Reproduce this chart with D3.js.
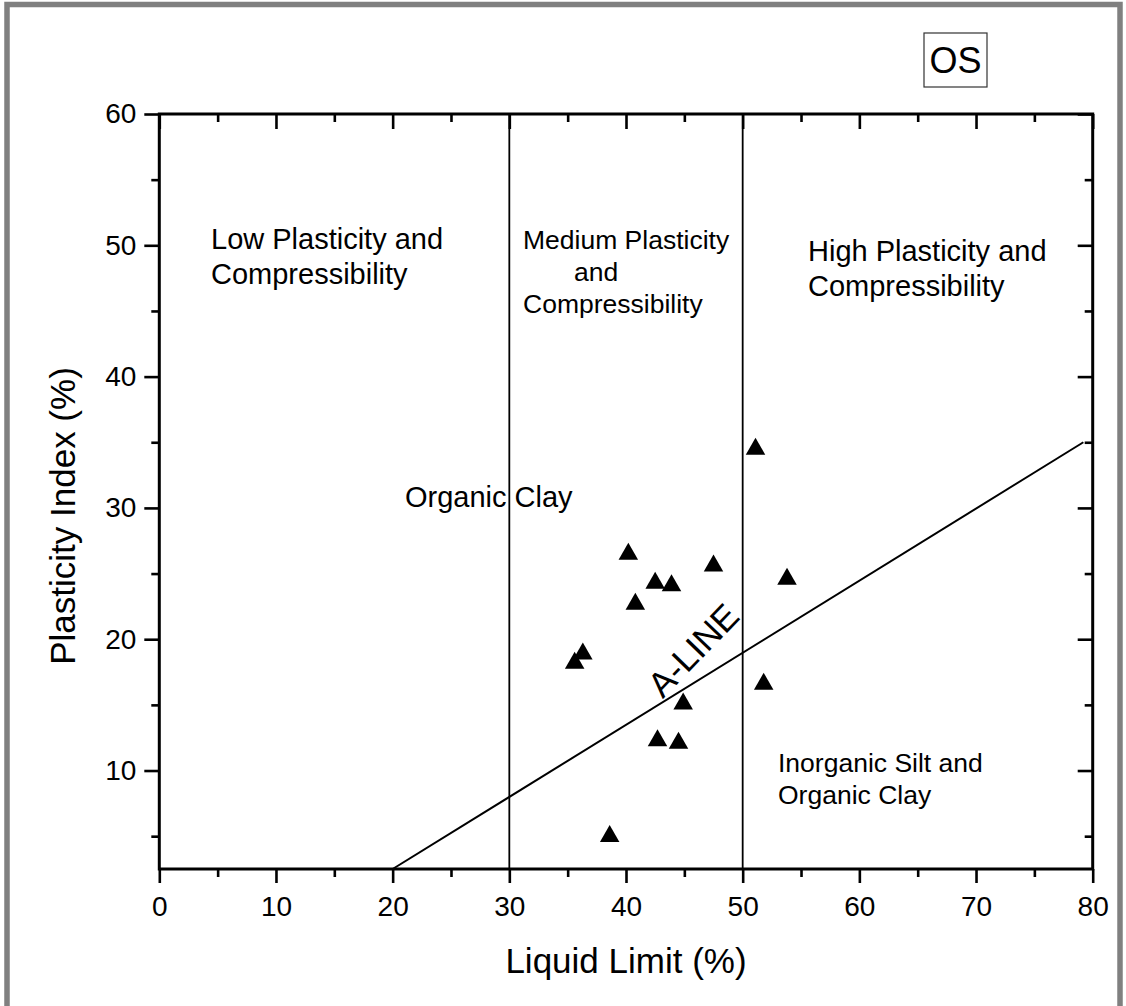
<!DOCTYPE html>
<html>
<head>
<meta charset="utf-8">
<script src="https://cdn.jsdelivr.net/npm/d3@7"></script>
<style>
  html, body { margin: 0; padding: 0; background: #fff; }
  svg { display: block; font-family: "Liberation Sans", Arial, sans-serif; }
</style>
</head>
<body>
<svg id="chart" width="1126" height="1006"></svg>
<script>
// Liquid limit (%) and plasticity index (%) of the tested samples
const liquidLimit = [51.1, 40.2, 47.5, 42.5, 43.9, 53.8, 40.8, 36.3, 35.6, 44.9, 51.8, 42.7, 44.5, 38.6];
const plasticityIndex = [34.7, 26.7, 25.8, 24.5, 24.3, 24.8, 22.9, 19.1, 18.4, 15.3, 16.8, 12.5, 12.3, 5.2];

const xTicks = [0, 10, 20, 30, 40, 50, 60, 70, 80];
const xMinorTicks = [5, 15, 25, 35, 45, 55, 65, 75];
const yTicks = [10, 20, 30, 40, 50, 60];
const yMinorTicks = [5, 15, 25, 35, 45, 55];

// Zone boundaries on liquid limit
const zoneBounds = [30, 50];
// A-line end points [LL, PI]
const aLine = [[20, 2.5], [79.2, 35.0]];

const svg = d3.select("#chart");

// outer frame
svg.append("rect")
  .attr("x", 7).attr("y", 4.5)
  .attr("width", 1113).attr("height", 1040)
  .attr("fill", "none").attr("stroke", "#808080").attr("stroke-width", 5.5);

const x = d3.scaleLinear().domain([0, 80]).range([159.3, 1092.7]);
const y = d3.scaleLinear().domain([2.5, 60]).range([869, 114]);

const plot = svg.append("g");

// zone boundaries
plot.selectAll("line.zone").data(zoneBounds).join("line")
  .attr("class", "zone")
  .attr("x1", d => x(d)).attr("x2", d => x(d))
  .attr("y1", y(60)).attr("y2", y(2.5))
  .attr("stroke", "#000").attr("stroke-width", 1.8);

// A-line
plot.append("line")
  .attr("x1", x(aLine[0][0])).attr("y1", y(aLine[0][1]))
  .attr("x2", x(aLine[1][0])).attr("y2", y(aLine[1][1]))
  .attr("stroke", "#000").attr("stroke-width", 2);

// axes
function styleAxis(g) {
  g.attr("font-family", null).attr("font-size", null);
  g.select(".domain").remove();
  g.selectAll(".tick line").attr("stroke", "#000").attr("stroke-width", 2.6);
  g.selectAll(".tick text").attr("fill", "#000").style("font-size", "28px");
}

const axisBottomG = svg.append("g").attr("transform", `translate(0,${y(2.5)})`);
axisBottomG.call(d3.axisBottom(x).tickValues(xTicks).tickFormat(d3.format("d")).tickSize(14).tickPadding(13)).call(styleAxis);
axisBottomG.append("g").call(d3.axisBottom(x).tickValues(xMinorTicks).tickSize(8).tickFormat("")).call(styleAxis);

const axisTopG = svg.append("g").attr("transform", `translate(0,${y(60)})`);
axisTopG.call(d3.axisBottom(x).tickValues(xTicks).tickSize(15).tickFormat("")).call(styleAxis);
axisTopG.append("g").call(d3.axisBottom(x).tickValues(xMinorTicks).tickSize(8).tickFormat("")).call(styleAxis);

const axisLeftG = svg.append("g").attr("transform", `translate(${x(0)},0)`);
axisLeftG.call(d3.axisLeft(y).tickValues(yTicks).tickFormat(d3.format("d")).tickSize(15).tickPadding(8)).call(styleAxis);
axisLeftG.append("g").call(d3.axisLeft(y).tickValues(yMinorTicks).tickSize(8).tickFormat("")).call(styleAxis);

const axisRightG = svg.append("g").attr("transform", `translate(${x(80)},0)`);
axisRightG.call(d3.axisLeft(y).tickValues(yTicks).tickSize(15).tickFormat("")).call(styleAxis);
axisRightG.append("g").call(d3.axisLeft(y).tickValues(yMinorTicks).tickSize(8).tickFormat("")).call(styleAxis);

// plot frame
svg.append("rect")
  .attr("x", x(0)).attr("y", y(60))
  .attr("width", x(80) - x(0)).attr("height", y(2.5) - y(60))
  .attr("fill", "none").attr("stroke", "#000").attr("stroke-width", 3);

// sample markers: filled up-triangles centred on their box
const triW = 19.5, triH = 17;
const pts = liquidLimit.map((d, i) => [d, plasticityIndex[i]]);
svg.append("g").selectAll("path").data(pts).join("path")
  .attr("transform", d => `translate(${x(d[0])},${y(d[1])})`)
  .attr("d", `M0,${-triH / 2}L${triW / 2},${triH / 2}L${-triW / 2},${triH / 2}Z`)
  .attr("fill", "#000");

// zone annotations
function block(lines, xPos, yPos, size, lead) {
  const t = svg.append("text").attr("fill", "#000").style("font-size", size + "px");
  lines.forEach((l, i) => {
    t.append("tspan").attr("x", xPos + (l.dx || 0)).attr("y", yPos + i * lead).text(l.text);
  });
}
block([{ text: "Low Plasticity and" }, { text: "Compressibility" }], 211, 249, 29, 35);
block([{ text: "Medium Plasticity" }, { text: "and", dx: 51 }, { text: "Compressibility" }], 523, 249, 26.5, 32);
block([{ text: "High Plasticity and" }, { text: "Compressibility" }], 808, 261, 29, 35);
block([{ text: "Organic Clay" }], 405, 507, 29, 0);
block([{ text: "Inorganic Silt and" }, { text: "Organic Clay" }], 778, 772, 26.5, 32);

svg.append("text")
  .attr("transform", "translate(693,650) rotate(-46)")
  .attr("text-anchor", "middle").attr("dominant-baseline", "central")
  .attr("fill", "#000").style("font-size", "35px").text("A-LINE");

// sample tag
svg.append("rect").attr("x", 924).attr("y", 33).attr("width", 63).attr("height", 54)
  .attr("fill", "none").attr("stroke", "#333").attr("stroke-width", 1.2);
svg.append("text").attr("x", 955.5).attr("y", 73).attr("text-anchor", "middle")
  .attr("fill", "#000").style("font-size", "36px").text("OS");

// axis titles
svg.append("text").attr("x", 626).attr("y", 973).attr("text-anchor", "middle")
  .attr("fill", "#000").style("font-size", "35px").text("Liquid Limit (%)");
svg.append("text").attr("transform", "translate(75,516) rotate(-90)").attr("text-anchor", "middle")
  .attr("fill", "#000").style("font-size", "35px").text("Plasticity Index (%)");
</script>
</body>
</html>
